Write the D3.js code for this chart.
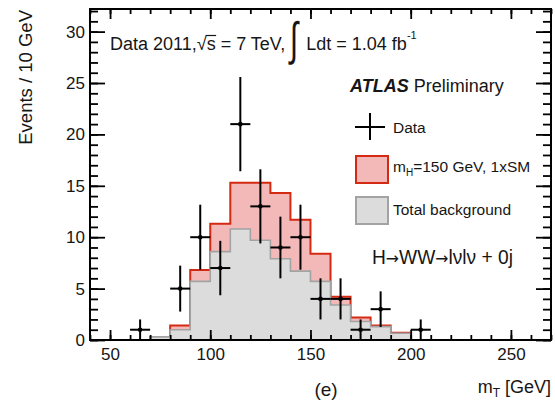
<!DOCTYPE html>
<html>
<head>
<meta charset="utf-8">
<script src="https://cdn.jsdelivr.net/npm/d3@7"></script>
<style>
  body { margin: 0; background: #fff; }
  svg text { font-family: "Liberation Sans", Arial, Helvetica, sans-serif; fill: #161616; }
</style>
</head>
<body>
<svg id="chart" width="555" height="401"></svg>
<script>
// histogram bins (low edge, GeV), 10 GeV wide
const binLow = [70, 80, 90, 100, 110, 120, 130, 140, 150, 160, 170, 180, 190];
const background = [0.3, 1.0, 5.7, 8.6, 10.8, 9.7, 7.9, 6.7, 5.7, 3.4, 1.8, 1.3, 0.65];
const signal = [0.0, 0.4, 1.1, 2.7, 4.5, 5.6, 6.4, 5.0, 2.7, 0.8, 0.4, 0.1, 0.05];
const binWidth = 10;

// observed events at bin centres
const dataMass = [65, 85, 95, 105, 115, 125, 135, 145, 155, 165, 175, 185, 205];
const dataCounts = [1, 5, 10, 7, 21, 13, 9, 10, 4, 4, 1, 3, 1];

const xTicks = [50, 100, 150, 200, 250];
const yTicks = [0, 5, 10, 15, 20, 25, 30];

const svg = d3.select('#chart');
const plot = { left: 90, top: 9, right: 551, bottom: 340 };

const x = d3.scaleLinear().domain([40, 270]).range([plot.left, plot.right]);
const y = d3.scaleLinear().domain([0, 32.2]).range([plot.bottom, plot.top]);

svg.append('defs').append('clipPath').attr('id', 'plot-clip')
  .append('rect')
  .attr('x', plot.left).attr('y', plot.top)
  .attr('width', plot.right - plot.left).attr('height', plot.bottom - plot.top);

// step outline helper: one point per bin plus the closing edge
function stepPoints(vals) {
  const pts = binLow.map((lo, i) => ({ x: lo, v: vals[i] }));
  pts.push({ x: binLow[binLow.length - 1] + binWidth, v: vals[vals.length - 1] });
  return pts;
}
const stepArea = d3.area()
  .x(d => x(d.x))
  .y0(y(0))
  .y1(d => y(d.v))
  .curve(d3.curveStepAfter);

const stacked = background.map((b, i) => b + signal[i]);

const hist = svg.append('g').attr('clip-path', 'url(#plot-clip)');
hist.append('path')
  .attr('d', stepArea(stepPoints(stacked)))
  .attr('fill', '#f3b9b9')
  .attr('stroke', '#d42a12')
  .attr('stroke-width', 2);
hist.append('path')
  .attr('d', stepArea(stepPoints(background)))
  .attr('fill', '#dcdcdc')
  .attr('stroke', '#a3a3a3')
  .attr('stroke-width', 1.6);

// axes, ticks inside the frame, mirrored on top/right
const xMinor = d3.range(40, 271, 10);
const yMinor = d3.range(0, 33, 1);

function drawAxis(axis, transform, labels) {
  const g = svg.append('g').attr('transform', transform).call(axis);
  g.select('.domain').remove();
  g.selectAll('line').attr('stroke', '#000').attr('stroke-width', 1.8);
  if (!labels) g.selectAll('text').remove();
  else g.selectAll('text').attr('font-size', 17).attr('fill', '#161616');
  return g;
}

drawAxis(d3.axisBottom(x).tickValues(xMinor).tickSize(-5).tickFormat(''), `translate(0,${plot.bottom})`, false);
drawAxis(d3.axisBottom(x).tickValues(xTicks).tickSize(-10).tickPadding(8), `translate(0,${plot.bottom})`, true);
drawAxis(d3.axisTop(x).tickValues(xMinor).tickSize(-5).tickFormat(''), `translate(0,${plot.top})`, false);
drawAxis(d3.axisTop(x).tickValues(xTicks).tickSize(-10).tickFormat(''), `translate(0,${plot.top})`, false);

drawAxis(d3.axisLeft(y).tickValues(yMinor).tickSize(-8).tickFormat(''), `translate(${plot.left},0)`, false);
drawAxis(d3.axisLeft(y).tickValues(yTicks).tickSize(-15).tickPadding(5), `translate(${plot.left},0)`, true);
drawAxis(d3.axisRight(y).tickValues(yMinor).tickSize(-8).tickFormat(''), `translate(${plot.right},0)`, false);
drawAxis(d3.axisRight(y).tickValues(yTicks).tickSize(-15).tickFormat(''), `translate(${plot.right},0)`, false);

svg.append('rect')
  .attr('x', plot.left).attr('y', plot.top)
  .attr('width', plot.right - plot.left).attr('height', plot.bottom - plot.top)
  .attr('fill', 'none').attr('stroke', '#000').attr('stroke-width', 2);

// data points with poisson-ish errors
const pts = svg.append('g').attr('stroke', '#000').attr('stroke-width', 2);
dataMass.forEach((m, i) => {
  const n = dataCounts[i], e = Math.sqrt(n);
  pts.append('line')
    .attr('x1', x(m)).attr('x2', x(m))
    .attr('y1', y(Math.max(0, n - e))).attr('y2', y(n + e));
  pts.append('line')
    .attr('x1', x(m - binWidth / 2)).attr('x2', x(m + binWidth / 2))
    .attr('y1', y(n)).attr('y2', y(n));
  pts.append('circle').attr('cx', x(m)).attr('cy', y(n)).attr('r', 1.3).attr('fill', '#000');
});

// header line
const head = svg.append('text').attr('x', 110).attr('y', 50).attr('font-size', 18);
head.append('tspan').text('Data 2011,');
head.append('tspan').text('√');
head.append('tspan').text('s');
head.append('tspan').text(' = 7 TeV,');
const hn = head.node();
const sx = 110 + hn.getSubStringLength(0, 11);
const sw = hn.getSubStringLength(11, 1);
svg.append('line')
  .attr('x1', sx - 1).attr('x2', sx + sw + 0.5)
  .attr('y1', 35.5).attr('y2', 35.5)
  .attr('stroke', '#161616').attr('stroke-width', 1.2);
const headEnd = 110 + hn.getComputedTextLength();

// tall thin integral sign
const intX = headEnd + 9;
const integ = svg.append('text')
  .attr('transform', `translate(${intX},55) scale(1,1.55)`)
  .attr('font-size', 30)
  .attr('text-anchor', 'middle')
  .text('∫');
const intEnd = intX + integ.node().getComputedTextLength() / 2;

const lumi = svg.append('text').attr('x', intEnd + 8).attr('y', 50).attr('font-size', 18);
lumi.append('tspan').text('Ldt = 1.04 fb');
lumi.append('tspan').attr('dy', -11).attr('font-size', 11).text('-1');

// ATLAS label
const atlas = svg.append('text').attr('x', 350).attr('y', 91.5).attr('font-size', 18);
atlas.append('tspan').attr('font-weight', 'bold').attr('font-style', 'italic').text('ATLAS');
atlas.append('tspan').text(' Preliminary');

// legend
const leg = svg.append('g');
leg.append('line').attr('x1', 355).attr('x2', 385).attr('y1', 127).attr('y2', 127)
  .attr('stroke', '#000').attr('stroke-width', 2);
leg.append('line').attr('x1', 370).attr('x2', 370).attr('y1', 113).attr('y2', 140)
  .attr('stroke', '#000').attr('stroke-width', 2);
leg.append('text').attr('x', 393).attr('y', 133).attr('font-size', 15.5).text('Data');

leg.append('rect').attr('x', 356).attr('y', 156).attr('width', 32).attr('height', 27)
  .attr('fill', '#f3b9b9').attr('stroke', '#d42a12').attr('stroke-width', 2);
const sigLabel = leg.append('text').attr('x', 393).attr('y', 172).attr('font-size', 15.5);
sigLabel.append('tspan').text('m');
sigLabel.append('tspan').attr('dy', 4).attr('font-size', 10).text('H');
sigLabel.append('tspan').attr('dy', -4).text('=150 GeV, 1xSM');

leg.append('rect').attr('x', 356).attr('y', 197).attr('width', 32).attr('height', 27)
  .attr('fill', '#dcdcdc').attr('stroke', '#a3a3a3').attr('stroke-width', 2);
leg.append('text').attr('x', 393).attr('y', 215).attr('font-size', 15.5).text('Total background');

// channel label, arrows from DejaVu so they sit mid-height
const chan = svg.append('text').attr('x', 372).attr('y', 264).attr('font-size', 19.5);
chan.append('tspan').text('H');
chan.append('tspan').style('font-family', '"DejaVu Sans", sans-serif').attr('font-size', 16).text('→');
chan.append('tspan').text('WW');
chan.append('tspan').style('font-family', '"DejaVu Sans", sans-serif').attr('font-size', 16).text('→');
chan.append('tspan').text('lνlν + 0j');
chan.attr('textLength', 141).attr('lengthAdjust', 'spacingAndGlyphs');

// axis titles
svg.append('text')
  .attr('transform', 'translate(32,10) rotate(-90)')
  .attr('text-anchor', 'end')
  .attr('font-size', 18.5)
  .text('Events / 10 GeV');

const xt = svg.append('text').attr('x', 551).attr('y', 393)
  .attr('text-anchor', 'end').attr('font-size', 18);
xt.append('tspan').text('m');
xt.append('tspan').attr('dy', 4).attr('font-size', 12).text('T');
xt.append('tspan').attr('dy', -4).text(' [GeV]');

svg.append('text').attr('x', 326).attr('y', 396)
  .attr('text-anchor', 'middle').attr('font-size', 19).text('(e)');
</script>
</body>
</html>
